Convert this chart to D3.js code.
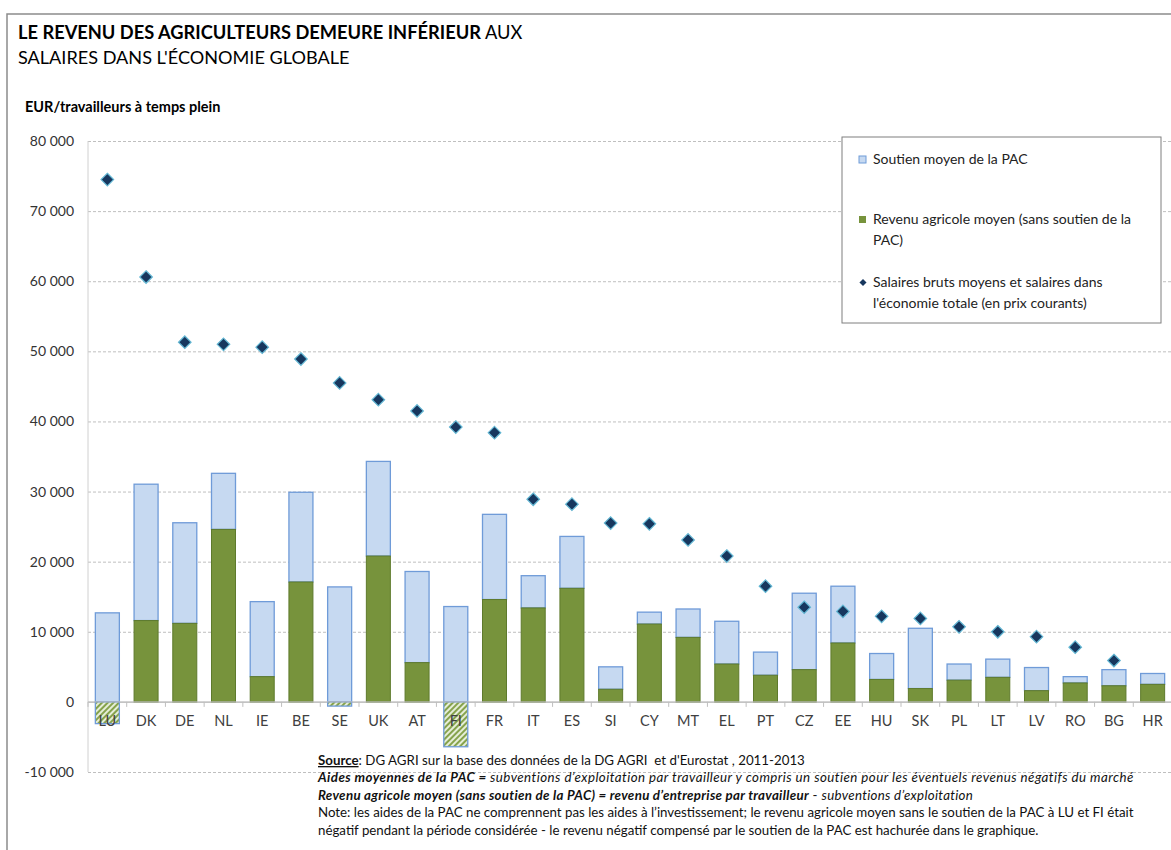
<!DOCTYPE html>
<html>
<head>
<meta charset="utf-8">
<script src="https://cdn.jsdelivr.net/npm/d3@7"></script>
<style>
  body { margin:0; background:#fff; }
  svg { display:block; font-family: Lato, "Open Sans", sans-serif; }
</style>
</head>
<body>
<div id="chart"></div>
<script>
// pays, revenu agricole (sans PAC), soutien PAC, salaires
let pays = ['LU','DK','DE','NL','IE','BE','SE','UK','AT','FI','FR','IT','ES','SI','CY','MT','EL','PT','CZ','EE','HU','SK','PL','LT','LV','RO','BG','HR']
let revenu = [-3100,11600,11200,24600,3600,17100,-600,20800,5600,-6400,14600,13400,16200,1800,11100,9200,5400,3800,4600,8400,3200,1900,3100,3500,1600,2700,2300,2500]
let soutien = [15800,19450,14350,8000,10700,12800,17000,13500,13000,20000,12150,4600,7400,3200,1700,4050,6100,3300,10900,8100,3700,8600,2300,2600,3300,900,2300,1550]
let salaires = [74500,60600,51300,51000,50600,48900,45500,43100,41500,39200,38400,28900,28200,25500,25400,23100,20800,16500,13500,12900,12200,11900,10700,10000,9300,7800,5900,null]
let yTicks = [-10000,0,10000,20000,30000,40000,50000,60000,70000,80000]

let legendItems = [
  { type:'soutien', lines:['Soutien moyen de la PAC'] },
  { type:'revenu',  lines:['Revenu agricole moyen (sans soutien de la','PAC)'] },
  { type:'salaire', lines:['Salaires bruts moyens et salaires dans',"l'économie totale (en prix courants)"] }
]

let data = pays.map((p,i) => ({ pays:p, revenu:revenu[i], soutien:soutien[i], salaire:salaires[i] }))

let width = 1171, height = 850
let cBlue = '#c6d9f1', cBlueStroke = '#6f9bd8', cGreen = '#77933c', cGreenStroke = '#5e7a2c', cDiamond = '#17375e'

let svg = d3.select('#chart').append('svg').attr('width', width).attr('height', height)

let defs = svg.append('defs')
let pat = defs.append('pattern').attr('id','hatch').attr('patternUnits','userSpaceOnUse')
  .attr('width',4).attr('height',4).attr('patternTransform','rotate(-45)')
pat.append('rect').attr('width',4).attr('height',4).attr('fill','#e6eed8')
pat.append('rect').attr('width',4).attr('height',2).attr('fill','#86a34c')

// cadre
svg.append('path').attr('d',`M7,${height} V14 H${width}`).attr('fill','none').attr('stroke','#8c8c8c').attr('stroke-width',1.5)

// titre
let t1 = svg.append('text').attr('x',18).attr('y',39).attr('font-size',18.25).attr('fill','#000')
t1.append('tspan').attr('font-weight','bold').text('LE REVENU DES AGRICULTEURS DEMEURE INFÉRIEUR')
t1.append('tspan').text(' AUX')
svg.append('text').attr('x',18).attr('y',64).attr('font-size',18.1).text("SALAIRES DANS L'ÉCONOMIE GLOBALE")
svg.append('text').attr('x',25).attr('y',112).attr('font-size',14.5).attr('font-weight','bold').text('EUR/travailleurs à temps plein')

let xScale = d3.scaleBand().domain(pays).range([88,1172]).paddingInner(0.38).paddingOuter(0.19)
let yScale = d3.scaleLinear().domain([-10000,80000]).range([772,141])
let fmt = d3.formatLocale({ decimal:',', thousands:'\u00a0', grouping:[3], currency:['','€'], minus:'-' }).format(',')

let yAxis = d3.axisLeft(yScale).tickValues(yTicks).tickFormat(fmt).tickSize(-(1172-88)).tickPadding(14)
let yGroup = svg.append('g').attr('transform','translate(88,0)').call(yAxis)
yGroup.select('.domain').remove()
yGroup.selectAll('.tick line').attr('stroke','#bfbfbf').attr('stroke-dasharray','3,2')
  .filter(d => d === 0).attr('stroke-dasharray',null).attr('stroke','#bfbfbf')
yGroup.selectAll('.tick text').attr('font-size',14).attr('fill','#333').attr('font-family','Lato, sans-serif')

svg.append('line').attr('x1',88).attr('x2',88).attr('y1',yScale(80000)).attr('y2',yScale(-10000)).attr('stroke','#d0d0d0')

let g = svg.append('g')

// soutien PAC
g.selectAll('rect.soutien').data(data).enter().append('rect').attr('class','soutien')
  .attr('x', d => xScale(d.pays)).attr('width', xScale.bandwidth())
  .attr('y', d => yScale(d.revenu + d.soutien))
  .attr('height', d => yScale(Math.max(d.revenu,0)) - yScale(d.revenu + d.soutien))
  .attr('fill', cBlue).attr('stroke', cBlueStroke).attr('stroke-width',1.3)

// revenu agricole positif
g.selectAll('rect.revenu').data(data.filter(d => d.revenu > 0)).enter().append('rect').attr('class','revenu')
  .attr('x', d => xScale(d.pays)).attr('width', xScale.bandwidth())
  .attr('y', d => yScale(d.revenu))
  .attr('height', d => yScale(0) - yScale(d.revenu))
  .attr('fill', cGreen).attr('stroke', cGreenStroke).attr('stroke-width',1)

// revenu negatif compense (hachure)
g.selectAll('rect.negatif').data(data.filter(d => d.revenu < 0)).enter().append('rect').attr('class','negatif')
  .attr('x', d => xScale(d.pays)).attr('width', xScale.bandwidth())
  .attr('y', yScale(0))
  .attr('height', d => yScale(d.revenu) - yScale(0))
  .attr('fill', 'url(#hatch)').attr('stroke', cBlueStroke).attr('stroke-width',1.3)

// axe x
let step = xScale.step()
let bounds = pays.map(p => xScale(p) - (step - xScale.bandwidth())/2).concat([1172])
svg.append('line').attr('x1',88).attr('x2',1172).attr('y1',yScale(0)).attr('y2',yScale(0)).attr('stroke','#bfbfbf')
svg.selectAll('line.xtick').data(bounds).enter().append('line').attr('class','xtick')
  .attr('x1', d => d).attr('x2', d => d).attr('y1', yScale(0)).attr('y2', yScale(0) + 5).attr('stroke','#bfbfbf')
svg.selectAll('text.pays').data(pays).enter().append('text').attr('class','pays')
  .attr('x', d => xScale(d) + xScale.bandwidth()/2).attr('y', yScale(0) + 24)
  .attr('text-anchor','middle').attr('font-size',14.5).attr('fill','#404040').text(d => d)

// salaires
let diamond = d3.symbol().type(d3.symbolDiamond2).size(100)
g.selectAll('path.salaire').data(data.filter(d => d.salaire != null)).enter().append('path').attr('class','salaire')
  .attr('d', diamond)
  .attr('transform', d => `translate(${xScale(d.pays) + xScale.bandwidth()/2},${yScale(d.salaire)})`)
  .attr('fill', cDiamond).attr('stroke','#62b6d3').attr('stroke-width',1.2)

// legende
let lg = svg.append('g').attr('transform','translate(842,137)')
lg.append('rect').attr('width',319).attr('height',186).attr('fill','#fff').attr('stroke','#7f7f7f')
let rowY = [27, 87, 150]
legendItems.forEach((item,i) => {
  let row = lg.append('g').attr('transform',`translate(0,${rowY[i]})`)
  if (item.type === 'soutien') row.append('rect').attr('x',17).attr('y',-8).attr('width',7).attr('height',7).attr('fill',cBlue).attr('stroke',cBlueStroke)
  if (item.type === 'revenu') row.append('rect').attr('x',17).attr('y',-8).attr('width',7).attr('height',7).attr('fill',cGreen)
  if (item.type === 'salaire') row.append('path').attr('d', d3.symbol().type(d3.symbolDiamond2).size(32)).attr('transform','translate(21,-4.5)').attr('fill',cDiamond)
  item.lines.forEach((l,j) => {
    row.append('text').attr('x',31).attr('y', j*21).attr('font-size',14).attr('fill','#222').text(l)
  })
})

// notes
let notes = svg.append('g').attr('transform','translate(318,0)').attr('font-size',13.3).attr('fill','#111')
let n1 = notes.append('text').attr('y',765)
n1.append('tspan').attr('font-weight','bold').attr('text-decoration','underline').text('Source')
n1.append('tspan').text(": DG AGRI sur la base des données de la DG AGRI  et d'Eurostat , 2011-2013").attr('xml:space','preserve')
let n2 = notes.append('text').attr('y',782).attr('font-style','italic').attr('letter-spacing',0.45)
n2.append('tspan').attr('font-weight','bold').text('Aides moyennes de la PAC = ')
n2.append('tspan').text('subventions d’exploitation par travailleur y compris un soutien pour les éventuels revenus négatifs du marché')
let n3 = notes.append('text').attr('y',800).attr('font-style','italic').attr('letter-spacing',0.3)
n3.append('tspan').attr('font-weight','bold').text('Revenu agricole moyen (sans soutien de la PAC) = revenu d’entreprise par travailleur')
n3.append('tspan').attr('font-style','normal').text(' - ')
n3.append('tspan').text('subventions d’exploitation')
notes.append('text').attr('y',817).text('Note: les aides de la PAC ne comprennent pas les aides à l’investissement; le revenu agricole moyen sans le soutien de la PAC à LU et FI était')
notes.append('text').attr('y',835).text('négatif pendant la période considérée - le revenu négatif compensé par le soutien de la  PAC est hachurée dans le graphique.')
</script>
</body>
</html>
